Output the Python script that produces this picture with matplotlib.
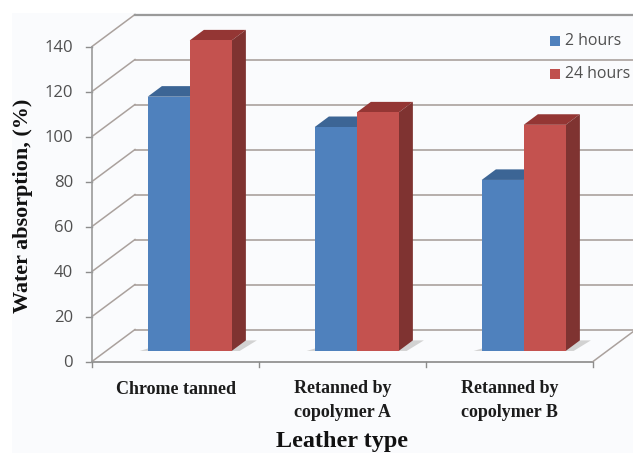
import matplotlib
matplotlib.use("Agg")
import matplotlib.pyplot as plt
import numpy as np

categories = ["Chrome tanned", "Retanned by\ncopolymer A", "Retanned by\ncopolymer B"]
label_rows = [390, 400.5, 400.5]
hours_2 = [113, 99.5, 76]
hours_24 = [138, 106, 100.5]
y_ticks = [0, 20, 40, 60, 80, 100, 120, 140]

GRID = "#aaa19d"
SERIF = "Liberation Serif"
SANS = "Open Sans"

# pixel scale of the front plane
PX_X = 167.0
PX_Y = 2.25
# offset of the back wall, in data units
DX = 43 / PX_X
DY = 32 / PX_Y
W = 42 / PX_X
FRONT, BACK = 0.33, 0.66


def proj(x, y, depth):
    return x + depth * DX, y + depth * DY


def box(ax, x, w, h, front, top, side):
    base_x, base_y = proj(x, 0, FRONT)
    ax.bar(base_x, h, w, bottom=base_y, align="edge", color=front, linewidth=0, zorder=3)
    p1 = proj(x, h, FRONT)
    p2 = proj(x + w, h, FRONT)
    p3 = proj(x + w, h, BACK)
    p4 = proj(x, h, BACK)
    ax.fill(*zip(p1, p2, p3, p4), color=top, linewidth=0, zorder=2)
    p5 = proj(x + w, 0, FRONT)
    p6 = proj(x + w, 0, BACK)
    ax.fill(*zip(p2, p3, p6, p5), color=side, linewidth=0, zorder=2)


fig = plt.figure(figsize=(6.33, 4.53), dpi=100)
ax = fig.add_axes([0, 0, 1, 1])
ax.set_xlim(-92 / PX_X, (633 - 92) / PX_X)
ax.set_ylim(-(453 - 361.5) / PX_Y, 361.5 / PX_Y)
ax.axis("off")

# pale panel behind the chart
ax.axvspan(-80 / PX_X, 10, ymin=0, ymax=1 - 13 / 453, color="#fafbfd", linewidth=0, zorder=0)

# gridlines on the wall and the floor
for v in y_ticks:
    x0, y0 = proj(0, v, 0)
    x1, y1 = proj(0, v, 1)
    ax.plot([x0, x1], [y0, y1], color=GRID, lw=1.1, zorder=1)
    color = "#9a9a9a" if v == 140 else GRID
    ax.plot([x1, 10], [y1, y1], color=color, lw=1.6 if v == 140 else 1.2, zorder=1)
    ax.plot([-6 / PX_X, 0], [v, v], color="#8c8c8c", lw=1, zorder=1)
    ax.text(-19 / PX_X, v - 0.6, str(v), ha="right", va="center", fontsize=12,
            family=SANS, color="#505050")

ax.plot([0, 0], [0, 140], color="#9a9a9a", lw=1.2, zorder=1)
ax.plot([0, 3], [0, 0], color="#9a9a9a", lw=1.4, zorder=1)
ax.plot(*zip(proj(3, 0, 0), proj(3, 0, 1)), color=GRID, lw=1.1, zorder=1)
for i in range(4):
    ax.plot([i, i], [0, -5 / PX_Y], color="#8c8c8c", lw=1, zorder=1)

# bars, with a soft floor shadow under each group
for i in range(len(categories)):
    left = i + 0.5 - W
    right = i + 0.5 + W
    s1 = proj(left - 8 / PX_X, 0, FRONT)
    s2 = proj(right + 8 / PX_X, 0, FRONT)
    s3 = proj(right + 11 / PX_X, 0, BACK)
    s4 = proj(right, 0, BACK)
    s5 = proj(left, 0, FRONT + 0.12)
    ax.fill(*zip(s1, s2, s3, s4, s5), color="#d2d2d2", linewidth=0, zorder=1.5)
    box(ax, left, W, hours_2[i], "#4f81bd", "#3c6595", "#3c6595")
    box(ax, i + 0.5, W, hours_24[i], "#c4524f", "#943634", "#7f3331")
    ax.text(i + 0.5, -(label_rows[i] - 361.5) / PX_Y, categories[i], ha="center", va="center",
            ma="center", fontsize=13, family=SERIF, weight="bold", color="#1c1c1c", linespacing=1.5)

ax.text(1.5, -(441.5 - 361.5) / PX_Y, "Leather type", ha="center", va="center",
        fontsize=17.4, family=SERIF, weight="bold", color="#111111")
ax.text(-(92 - 23) / PX_X, (361.5 - 206) / PX_Y, "Water absorption, (%)", rotation=90,
        ha="center", va="center", fontsize=15.9, family=SERIF, weight="bold", color="#111111")

# legend
for label, color, cy in [("2 hours", "#4f81bd", 41), ("24 hours", "#c0504d", 74)]:
    ax.bar((550 - 92) / PX_X, 10 / PX_Y, 10 / PX_X, bottom=(361.5 - cy - 5) / PX_Y, align="edge",
           color=color, linewidth=0, zorder=3)
    ax.text((565 - 92) / PX_X, (361.5 - cy) / PX_Y, label, ha="left", va="center", fontsize=11.4,
            family=SANS, color="#505050")

fig.savefig("out.png", dpi=100)
